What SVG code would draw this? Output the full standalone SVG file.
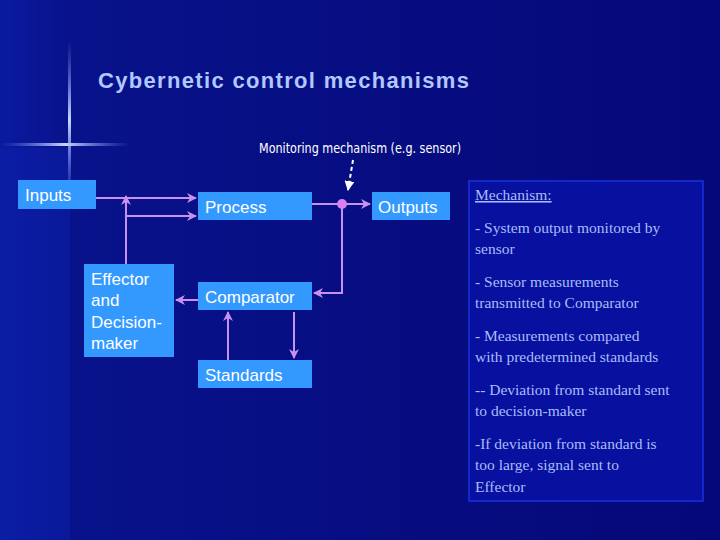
<svg xmlns="http://www.w3.org/2000/svg" width="720" height="540" viewBox="0 0 720 540">
<defs>
<linearGradient id="bg" x1="0" y1="0" x2="1" y2="0">
<stop offset="0" stop-color="#0a1aa0"/><stop offset="0.1" stop-color="#08128a"/><stop offset="1" stop-color="#050878"/>
</linearGradient>
<linearGradient id="hl" x1="0" y1="0" x2="1" y2="0">
<stop offset="0" stop-color="#6a8cff" stop-opacity="0"/><stop offset="0.5" stop-color="#c8d8ff"/><stop offset="1" stop-color="#6a8cff" stop-opacity="0"/>
</linearGradient>
<linearGradient id="vl" x1="0" y1="0" x2="0" y2="1">
<stop offset="0" stop-color="#6a8cff" stop-opacity="0"/><stop offset="0.5" stop-color="#c8d8ff"/><stop offset="1" stop-color="#6a8cff" stop-opacity="0"/>
</linearGradient>
<marker id="ar" viewBox="0 0 10 10" refX="9" refY="5" markerWidth="5" markerHeight="5" orient="auto"><path d="M0,0 L10,5 L0,10 L3,5 z" fill="#c890f0"/></marker>
<marker id="aw" viewBox="0 0 10 10" refX="9" refY="5" markerWidth="5" markerHeight="5" orient="auto"><path d="M0,0 L10,5 L0,10 z" fill="#fff"/></marker>
<style>
.box{fill:#3399ff}
.t{font-family:"Liberation Sans",Arial,sans-serif;font-size:17px;fill:#fff}
.c{stroke:#c890f0;stroke-width:2;fill:none}
.p{font-family:"Liberation Serif",serif;font-size:15.5px;fill:#a8bcf8}
</style>
</defs>
<rect width="720" height="540" fill="url(#bg)"/>
<rect x="0" y="148" width="70" height="392" fill="#0e24b0" opacity="0.4"/>
<rect x="0" y="143" width="130" height="3" fill="url(#hl)"/>
<rect x="68" y="40" width="3" height="160" fill="url(#vl)"/>
<text x="98" y="88" font-family="Liberation Sans,Arial,sans-serif" font-size="22" font-weight="bold" fill="#b0c8ff" textLength="371" lengthAdjust="spacing">Cybernetic control mechanisms</text>
<text x="259" y="153" font-family="DejaVu Sans Condensed,Liberation Sans,sans-serif" font-size="14" fill="#fff" textLength="202" lengthAdjust="spacingAndGlyphs">Monitoring mechanism (e.g. sensor)</text>
<g id="connectors">
<path class="c" d="M96 198 H196" marker-end="url(#ar)"/>
<path class="c" d="M126 264 V196" marker-end="url(#ar)"/>
<path class="c" d="M126 216 H196" marker-end="url(#ar)"/>
<path class="c" d="M312 204 H370" marker-end="url(#ar)"/>
<path class="c" d="M342 204 V293 H314" marker-end="url(#ar)"/>
<path class="c" d="M198 300 H176" marker-end="url(#ar)"/>
<path class="c" d="M228 360 V312" marker-end="url(#ar)"/>
<path class="c" d="M294 312 V358" marker-end="url(#ar)"/>
<circle cx="342" cy="204" r="5" fill="#d880f0"/>
<path d="M353 160 L348 190" stroke="#fff" stroke-width="2" stroke-dasharray="4 3" fill="none" marker-end="url(#aw)"/>
</g>
<g id="inputs"><rect class="box" x="18" y="180" width="78" height="29"/><text class="t" x="25" y="201">Inputs</text></g>
<g id="process"><rect class="box" x="198" y="192" width="114" height="28"/><text class="t" x="205" y="213">Process</text></g>
<g id="outputs"><rect class="box" x="372" y="192" width="78" height="28"/><text class="t" x="378" y="213">Outputs</text></g>
<g id="effector"><rect class="box" x="84" y="264" width="90" height="93"/><text class="t" x="91" y="285">Effector</text><text class="t" x="91" y="306">and</text><text class="t" x="91" y="328">Decision-</text><text class="t" x="91" y="349">maker</text></g>
<g id="comparator"><rect class="box" x="198" y="282" width="114" height="28"/><text class="t" x="205" y="303">Comparator</text></g>
<g id="standards"><rect class="box" x="198" y="360" width="114" height="28"/><text class="t" x="205" y="381">Standards</text></g>
<g id="panel">
<rect x="469" y="181" width="234" height="320" fill="#0810a0" stroke="#1a30e0" stroke-width="1.5"/>
<text class="p" x="475" y="200" text-decoration="underline">Mechanism:</text>
<text class="p" x="475" y="233">- System output monitored by</text>
<text class="p" x="475" y="254">sensor</text>
<text class="p" x="475" y="287">- Sensor measurements</text>
<text class="p" x="475" y="308">transmitted to Comparator</text>
<text class="p" x="475" y="341">-  Measurements compared</text>
<text class="p" x="475" y="362">with predetermined standards</text>
<text class="p" x="475" y="395">-- Deviation from standard sent</text>
<text class="p" x="475" y="416">to decision-maker</text>
<text class="p" x="475" y="449">-If deviation from standard is</text>
<text class="p" x="475" y="470">too large, signal sent to</text>
<text class="p" x="475" y="492">Effector</text>
</g>
</svg>
